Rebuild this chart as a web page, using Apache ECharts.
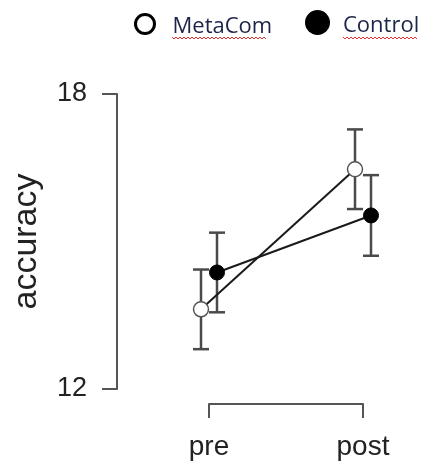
<!DOCTYPE html>
<html>
<head>
<meta charset="utf-8">
<script src="https://cdn.jsdelivr.net/npm/echarts@6/dist/echarts.min.js"></script>
<style>
  html, body { margin: 0; padding: 0; background: #fff; }
  #chart { width: 422px; height: 461px; }
</style>
</head>
<body>
<div id="chart"></div>
<script>
// data
const phases = ["pre", "post"];
const groups = ["MetaCom", "Control"];
const metaMean = [13.62, 16.47];
const metaErr = [0.81, 0.81];
const controlMean = [14.37, 15.53];
const controlErr = [0.81, 0.82];
const yTicks = [12, 18];

const chart = echarts.init(document.getElementById("chart"));

// error bar + point + connecting line, shifted sideways by dodge px
function makeRender(means, errs, dodge, filled) {
  return function (params, api) {
    const i = api.value(0);
    const m = api.value(1);
    const e = api.value(2);
    const c = api.coord([i, m]);
    const hi = api.coord([i, m + e]);
    const lo = api.coord([i, m - e]);
    const x = c[0] + dodge;
    const cap = 8;
    const barStyle = { stroke: "#4a4a4a", lineWidth: 2.5 };
    const children = [
      { type: "line", shape: { x1: x, y1: hi[1], x2: x, y2: lo[1] }, style: barStyle },
      { type: "line", shape: { x1: x - cap, y1: hi[1], x2: x + cap, y2: hi[1] }, style: barStyle },
      { type: "line", shape: { x1: x - cap, y1: lo[1], x2: x + cap, y2: lo[1] }, style: barStyle }
    ];
    if (i < means.length - 1) {
      const n = api.coord([i + 1, means[i + 1]]);
      children.push({
        type: "line",
        shape: { x1: x, y1: c[1], x2: n[0] + dodge, y2: n[1] },
        style: { stroke: "#1a1a1a", lineWidth: 2 },
        z2: 5
      });
    }
    children.push({
      type: "circle",
      shape: { cx: x, cy: c[1], r: 7.5 },
      style: filled
        ? { fill: "#000", stroke: "#000", lineWidth: 1 }
        : { fill: "#fff", stroke: "#555", lineWidth: 1.5 },
      z2: 10
    });
    return { type: "group", children: children };
  };
}

function rows(means, errs) {
  return means.map((m, i) => [i, m, errs[i]]);
}

// red spell-check squiggle under the legend words
function squiggle(x0, x1, y) {
  const pts = [];
  for (let x = x0, k = 0; x <= x1; x += 2, k++) {
    pts.push([x, y + (k % 2 === 0 ? 0 : 2)]);
  }
  return {
    type: "polyline",
    shape: { points: pts },
    style: { stroke: "#e03030", lineWidth: 1, fill: null },
    silent: true
  };
}

const legendText = {
  rich: {
    t: { fontFamily: "Open Sans", fontSize: 22, color: "#1c2448", padding: [6, 0, 0, 0] }
  }
};

const option = {
  animation: false,
  backgroundColor: "#fff",
  legend: [
    {
      data: [{ name: groups[0], icon: "circle",
        itemStyle: { color: "#fff", borderColor: "#000", borderWidth: 3 } }],
      left: 134, top: 13,
      padding: 0,
      itemWidth: 19, itemHeight: 19,
      selectedMode: false,
      formatter: "{t|{name}}",
      textStyle: Object.assign({ padding: [0, 0, 0, 13] }, legendText)
    },
    {
      data: [{ name: groups[1], icon: "circle", itemStyle: { color: "#000" } }],
      left: 305, top: 10,
      padding: 0,
      itemWidth: 25, itemHeight: 25,
      selectedMode: false,
      formatter: "{t|{name}}",
      textStyle: Object.assign({ padding: [0, 0, 0, 8] }, legendText)
    }
  ],
  graphic: [squiggle(172, 267, 37), squiggle(343, 418, 37)],
  grid: { left: 209, right: 59, top: 94, bottom: 72 },
  xAxis: {
    type: "category",
    data: phases,
    boundaryGap: false,
    offset: 15,
    axisLine: { lineStyle: { color: "#555", width: 2 } },
    axisTick: { show: true, length: 14, interval: 0, lineStyle: { color: "#555", width: 2 } },
    axisLabel: { fontFamily: "Liberation Sans", fontSize: 28, color: "#222", margin: 29, interval: 0 },
    splitLine: { show: false }
  },
  yAxis: {
    type: "value",
    min: yTicks[0],
    max: yTicks[1],
    interval: yTicks[1] - yTicks[0],
    offset: 92,
    name: "accuracy",
    nameLocation: "middle",
    nameRotate: 90,
    nameGap: 73,
    nameTextStyle: { fontFamily: "Liberation Sans", fontSize: 34, color: "#222" },
    axisLine: { show: true, lineStyle: { color: "#555", width: 2 } },
    axisTick: { show: true, length: 15, lineStyle: { color: "#555", width: 2 } },
    axisLabel: { fontFamily: "Liberation Sans", fontSize: 27, color: "#222", margin: 30 },
    splitLine: { show: false }
  },
  series: [
    {
      name: groups[0],
      type: "custom",
      renderItem: makeRender(metaMean, metaErr, -8, false),
      data: rows(metaMean, metaErr),
      encode: { x: 0, y: 1 }
    },
    {
      name: groups[1],
      type: "custom",
      renderItem: makeRender(controlMean, controlErr, 8, true),
      data: rows(controlMean, controlErr),
      encode: { x: 0, y: 1 }
    }
  ]
};

chart.setOption(option);
</script>
</body>
</html>
